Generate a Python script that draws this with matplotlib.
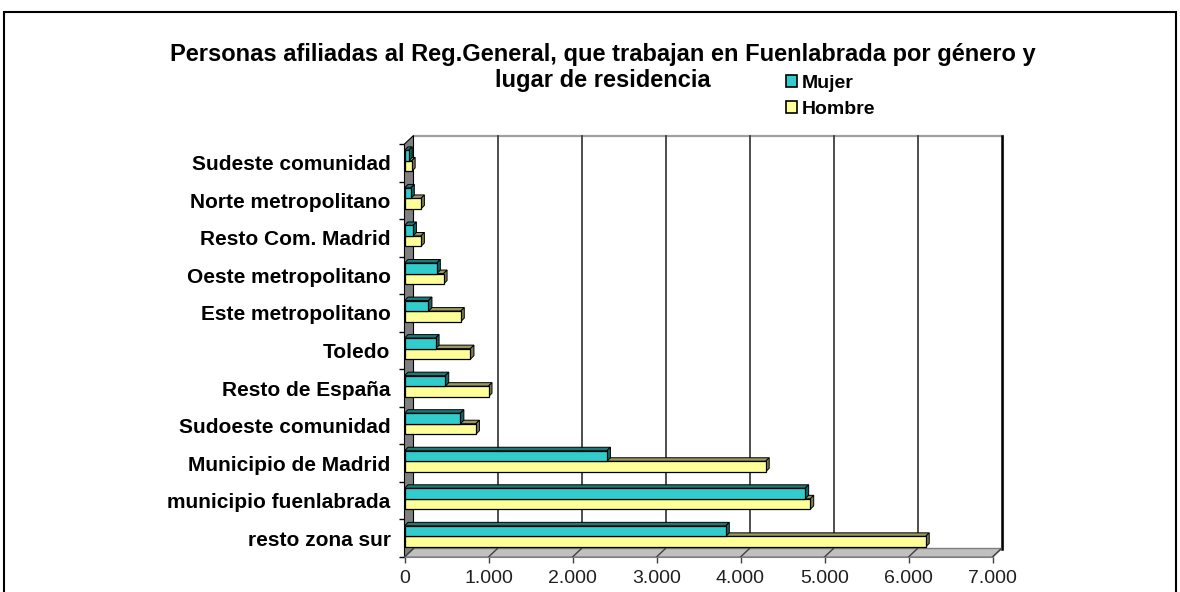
import matplotlib
matplotlib.use('Agg')
import matplotlib.pyplot as plt
from matplotlib.patches import Polygon, Rectangle, Patch

# data, listed top -> bottom as in the chart
categorias = ['Sudeste comunidad', 'Norte metropolitano', 'Resto Com. Madrid',
              'Oeste metropolitano', 'Este metropolitano', 'Toledo',
              'Resto de España', 'Sudoeste comunidad', 'Municipio de Madrid',
              'municipio fuenlabrada', 'resto zona sur']
mujer = [50, 75, 100, 385, 285, 370, 485, 665, 2410, 4770, 3825]
hombre = [85, 195, 195, 465, 670, 785, 1000, 850, 4300, 4830, 6205]
xticks = [0, 1000, 2000, 3000, 4000, 5000, 6000, 7000]
xticklabels = ['0', '1.000', '2.000', '3.000', '4.000', '5.000', '6.000', '7.000']

plt.rcParams['font.family'] = ['Liberation Sans', 'DejaVu Sans']

W, H = 1180, 592
fig = plt.figure(figsize=(W / 100, H / 100), dpi=100)
ax_left, ax_right, ax_top, ax_bottom = 404.5, 992.5, 144, 557
ax = fig.add_axes([ax_left / W, 1 - ax_bottom / H,
                   (ax_right - ax_left) / W, (ax_bottom - ax_top) / H])
n = len(categorias)
xmax = 7000
ax.set_xlim(0, xmax)
ax.set_ylim(-0.5, n - 0.5)
ax.patch.set_visible(False)

# pixel -> data helpers for the fake 3d depth
px_x = xmax / (ax_right - ax_left)
px_y = n / (ax_bottom - ax_top)
wdx, wdy = 9 * px_x, 8.5 * px_y      # wall depth
bdx, bdy = 3.5 * px_x, 3.5 * px_y    # bar depth

y_lo, y_hi = -0.5, n - 0.5

# back wall
ax.add_patch(Rectangle((wdx, y_lo + wdy), xmax, n, fc='white', ec='none',
                       zorder=0, clip_on=False))
ax.plot([wdx, xmax + wdx], [y_hi + wdy, y_hi + wdy], color='#a0a0a0',
        lw=1.6, zorder=1, clip_on=False)
for xv in xticks[1:-1]:
    ax.plot([xv + wdx, xv + wdx], [y_lo + wdy, y_hi + wdy], color='#404040',
            lw=1.3, zorder=1, clip_on=False)
ax.plot([xmax + wdx + 1.2 * px_x] * 2, [y_lo + wdy, y_hi + wdy],
        color='#b0b0b0', lw=1.5, zorder=1, clip_on=False)
ax.plot([xmax + wdx, xmax + wdx], [y_lo + wdy, y_hi + wdy], color='black',
        lw=1.8, zorder=1, clip_on=False)

# left wall
ax.add_patch(Polygon([(0, y_lo), (wdx, y_lo + wdy), (wdx, y_hi + wdy), (0, y_hi)],
                     closed=True, fc='#808080', ec='black', lw=0.8,
                     zorder=2, clip_on=False))

# floor
ax.add_patch(Polygon([(0, y_lo), (xmax, y_lo), (xmax + wdx, y_lo + wdy),
                      (wdx, y_lo + wdy)], closed=True, fc='#c0c0c0',
                     ec='#808080', lw=1.0, zorder=2, clip_on=False))
for xv in xticks:
    ax.plot([xv, xv + wdx], [y_lo, y_lo + wdy], color='#404040', lw=1.0,
            zorder=2, clip_on=False)


def draw_bar(v, y0, h, face, top, side, z):
    ax.add_patch(Polygon([(0, y0 + h), (v, y0 + h), (v + bdx, y0 + h + bdy),
                          (bdx, y0 + h + bdy)], closed=True, fc=top,
                         ec='black', lw=0.7, zorder=z, clip_on=False))
    ax.add_patch(Polygon([(v, y0), (v + bdx, y0 + bdy), (v + bdx, y0 + h + bdy),
                          (v, y0 + h)], closed=True, fc=side, ec='black',
                         lw=0.7, zorder=z, clip_on=False))
    ax.add_patch(Rectangle((0, y0), v, h, fc=face, ec='black', lw=0.9,
                           zorder=z, clip_on=False))


teal, teal_top, teal_side = '#33CCCC', '#1a7a7a', '#156666'
yel, yel_top, yel_side = '#FFFF99', '#99995c', '#80804d'
bh = 0.28
for i, (cat, m, hv) in enumerate(zip(categorias[::-1], mujer[::-1], hombre[::-1])):
    yc = i + 0.05
    draw_bar(hv, yc - bh, bh, yel, yel_top, yel_side, 3 + 2 * i)
    draw_bar(m, yc, bh, teal, teal_top, teal_side, 4 + 2 * i)

# axes and ticks
for s in ['top', 'right', 'left']:
    ax.spines[s].set_visible(False)
ax.spines['bottom'].set_color('#808080')
ax.spines['bottom'].set_zorder(2)
ax.set_xticks(xticks)
ax.set_xticklabels(xticklabels)
ax.tick_params(axis='x', length=4.5, width=1.0, color='#404040', pad=5,
               labelsize=14, labelcolor='#202020')
ax.set_yticks(range(n))
ax.set_yticklabels(categorias[::-1], fontweight='bold')
ax.set_yticks([k - 0.5 for k in range(n + 1)], minor=True)
ax.tick_params(axis='y', which='major', length=0, pad=10, labelsize=15)
ax.tick_params(axis='y', which='minor', length=4, width=1.0, color='black')

# title
fig.text(603 / W, 1 - 54 / H,
         'Personas afiliadas al Reg.General, que trabajan en Fuenlabrada por género y',
         ha='center', va='center', fontsize=17, fontweight='bold')
fig.text(603 / W, 1 - 80 / H, 'lugar de residencia', ha='center', va='center',
         fontsize=17, fontweight='bold')

# legend
handles = [Patch(fc=teal, ec='black', lw=1.2), Patch(fc=yel, ec='black', lw=1.2)]
fig.legend(handles, ['Mujer', 'Hombre'], loc='upper left',
           bbox_to_anchor=(786 / W, 1 - 75 / H), frameon=False,
           prop={'weight': 'bold', 'size': 14}, handlelength=0.55,
           handleheight=0.55, handletextpad=0.25, labelspacing=0.45,
           borderpad=0, borderaxespad=0)

# outer frame
fig.patches.append(Rectangle((4 / W, -0.05), 1172 / W, 1 - 12 / H + 0.05,
                             transform=fig.transFigure, fill=False,
                             ec='black', lw=1.5))

fig.savefig('out.png', dpi=100)
